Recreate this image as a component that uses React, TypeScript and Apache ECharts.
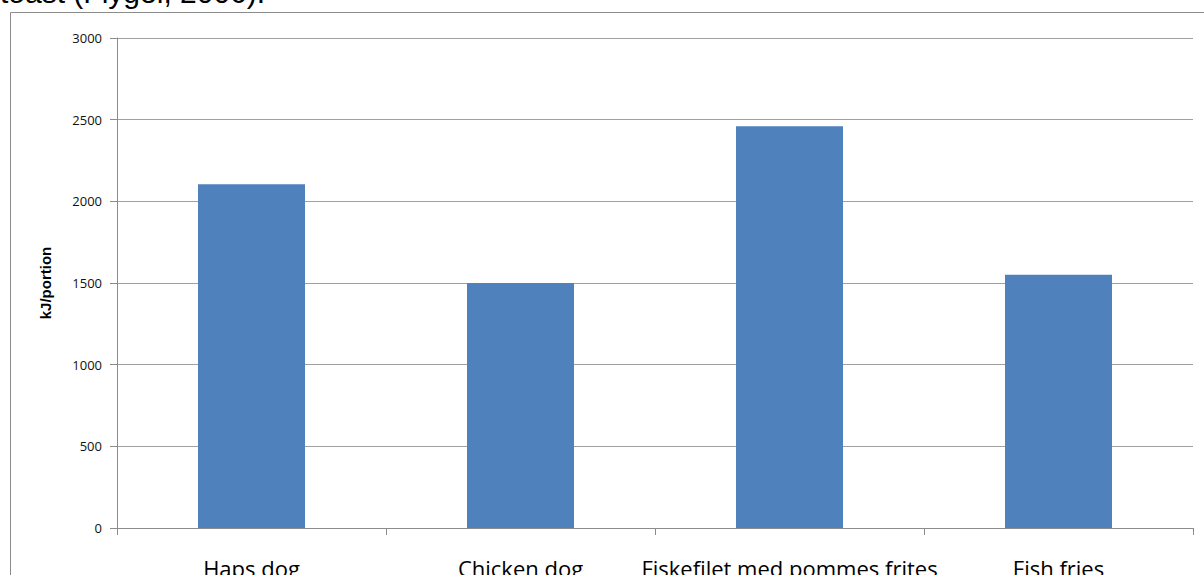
import React, { useEffect, useRef } from "react";
import * as echarts from "echarts";

const categories = ["Haps dog", "Chicken dog", "Fiskefilet med pommes frites", "Fish fries"];
const energyValues = [2105, 1500, 2460, 1550];
const yTicks = { min: 0, max: 3000, interval: 500 };
const axisTitle = "kJ/portion";
const captionText = "toast (Flygel, 2006).";

export default function App() {
  const ref = useRef<HTMLDivElement>(null);

  useEffect(() => {
    document.body.style.margin = "0";
    document.body.style.overflow = "hidden";
    const chart = echarts.init(ref.current!, null, { renderer: "svg" });
    chart.setOption({
      animation: false,
      backgroundColor: "#ffffff",
      graphic: [
        {
          type: "text",
          left: 0,
          top: -23,
          style: {
            text: captionText,
            font: "30px 'Liberation Sans', Arial, sans-serif",
            fill: "#000000",
          },
          z: 10,
        },
        {
          type: "rect",
          shape: { x: 10.5, y: 12.5, width: 1400, height: 800 },
          style: { fill: "none", stroke: "#8c8c8c", lineWidth: 1 },
          z: -1,
        },
      ],
      grid: {
        left: 117,
        top: 38,
        right: 11,
        bottom: 47,
        containLabel: false,
        outerBoundsMode: "none",
      },
      xAxis: {
        type: "category",
        data: categories,
        boundaryGap: true,
        axisLine: { show: true, lineStyle: { color: "#8c8c8c", width: 1 } },
        axisTick: { show: true, length: 7, interval: 0, lineStyle: { color: "#8c8c8c" } },
        axisLabel: {
          interval: 0,
          margin: 29,
          fontSize: 22,
          color: "#000000",
          fontFamily: "'Open Sans', sans-serif",
        },
      },
      yAxis: {
        type: "value",
        min: yTicks.min,
        max: yTicks.max,
        interval: yTicks.interval,
        name: axisTitle,
        nameLocation: "middle",
        nameRotate: 90,
        nameGap: 64,
        nameTextStyle: {
          fontSize: 15,
          fontWeight: "bold",
          color: "#000000",
          fontFamily: "'Liberation Sans', Arial, sans-serif",
        },
        axisLine: { show: true, lineStyle: { color: "#8c8c8c", width: 1 } },
        axisTick: { show: true, length: 7, lineStyle: { color: "#8c8c8c" } },
        axisLabel: {
          margin: 15,
          fontSize: 13,
          color: "#111111",
          fontFamily: "'Open Sans', sans-serif",
          formatter: (v: number) => String(v),
        },
        splitLine: { show: true, lineStyle: { color: "#a0a0a0", width: 1 } },
      },
      series: [
        {
          type: "bar",
          data: energyValues,
          barWidth: 107,
          itemStyle: { color: "#4f81bd" },
        },
      ],
    });
    return () => chart.dispose();
  }, []);

  return <div ref={ref} style={{ width: 1204, height: 575 }} />;
}
